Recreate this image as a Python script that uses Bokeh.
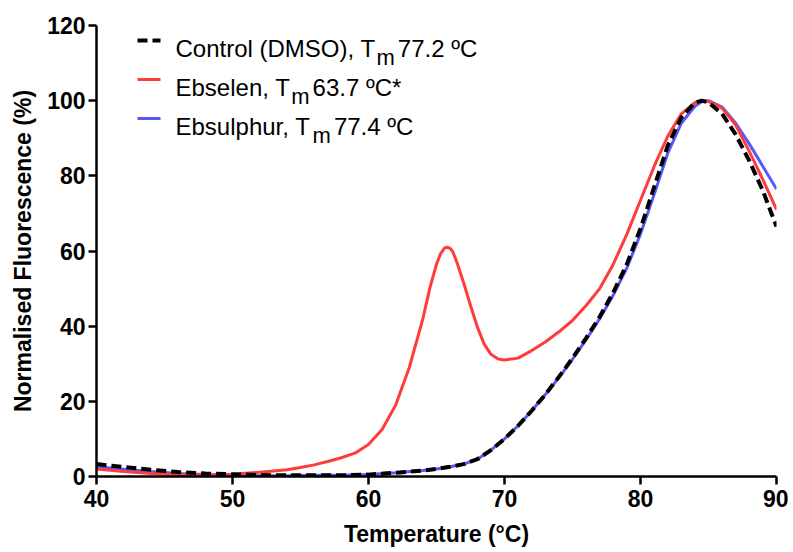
from bokeh.plotting import figure
from bokeh.models import Range1d, ColumnDataSource
from bokeh.core.properties import value
from bokeh.embed import file_html
from bokeh.resources import INLINE

# ---------------- data ----------------
control_x = [40, 42, 44, 46, 48, 50, 52, 54, 56, 58, 60, 62, 64, 65, 66, 67, 68, 69, 70,
             71, 72, 73, 74, 75, 76, 77, 78, 79, 80, 81, 82, 83, 84, 84.5, 85, 86, 87, 88, 89, 90]
control_y = [3.3, 2.5, 1.8, 1.2, 0.8, 0.6, 0.4, 0.3, 0.3, 0.3, 0.5, 1.0, 1.6, 2.0, 2.6, 3.3, 4.6, 7.0, 10.0,
             13.5, 17.5, 21.8, 26.5, 31.5, 36.8, 42.5, 49.0, 56.5, 66.0, 77.0, 88.0, 95.5, 99.5, 100.0, 99.5, 96.5, 91.0, 84.0, 76.0, 66.5]

ebselen_x = [40, 42, 44, 46, 48, 50, 52, 54, 55, 56, 57, 58, 59, 60, 61, 62, 63, 64, 64.5, 65, 65.3, 65.6, 65.8, 66, 66.2,
             66.5, 67, 67.5, 68, 68.5, 69, 69.5, 70, 71, 72, 73, 74, 75, 76, 77, 78, 79, 80, 81, 82, 83, 84, 84.5,
             85, 86, 87, 88, 89, 90]
ebselen_y = [2.0, 1.3, 0.8, 0.5, 0.4, 0.6, 1.1, 1.8, 2.4, 3.1, 4.0, 5.0, 6.2, 8.5, 12.5, 19.0, 29.0, 42.0, 50.0, 56.5, 59.3, 60.8, 61.0, 60.7, 59.8,
             57.0, 51.5, 45.5, 39.8, 35.3, 32.5, 31.3, 31.0, 31.5, 33.5, 35.8, 38.5, 41.5, 45.5, 50.0, 56.5, 64.5, 73.5, 82.5, 90.5, 96.5, 99.5, 100.0,
             99.8, 98.0, 93.5, 86.5, 79.0, 71.0]

ebsulphur_x = [40, 42, 44, 46, 48, 50, 52, 54, 56, 58, 60, 62, 64, 65, 66, 67, 68, 69, 70,
               71, 72, 73, 74, 75, 76, 77, 78, 79, 80, 81, 82, 83, 84, 84.5, 85, 86, 87, 88, 89, 90]
ebsulphur_y = [2.6, 1.9, 1.3, 0.8, 0.5, 0.3, 0.2, 0.2, 0.3, 0.3, 0.5, 1.0, 1.6, 2.0, 2.6, 3.3, 4.6, 7.0, 10.0,
               13.5, 17.5, 21.8, 26.3, 31.2, 36.4, 42.0, 48.3, 55.5, 64.5, 75.0, 86.0, 94.0, 98.5, 99.7, 100.0, 98.3, 94.0, 88.5, 82.5, 76.5]

x_ticks = [40, 50, 60, 70, 80, 90]
y_ticks = [0, 20, 40, 60, 80, 100, 120]

legend_labels = [("Control (DMSO), T", "m", " 77.2 \u00baC"),
                 ("Ebselen, T", "m", " 63.7 \u00baC*"),
                 ("Ebsulphur, T", "m", " 77.4 \u00baC")]

# ---------------- styling ----------------
RED = "#ff3b3b"
BLUE = "#5858f8"
BLACK = "#000000"
FONT = "Liberation Sans"

W, H = 788, 550
ML, MR, MT, MB = 96, 12, 25, 74
X0, X1, Y0, Y1 = 40, 90, 0, 120

p = figure(width=W, height=H, output_backend="svg", toolbar_location=None,
           x_range=Range1d(X0, X1), y_range=Range1d(Y0, Y1),
           min_border_left=ML, min_border_right=MR, min_border_top=MT, min_border_bottom=MB)
p.outline_line_color = None
p.grid.visible = False
p.background_fill_color = "white"
p.border_fill_color = "white"

p.line(ebsulphur_x, ebsulphur_y, line_color=BLUE, line_width=3)
p.line(ebselen_x, ebselen_y, line_color=RED, line_width=3)
p.line(control_x, control_y, line_color=BLACK, line_width=4, line_dash="10 5")

for ax in (p.xaxis[0], p.yaxis[0]):
    ax.axis_line_width = 2.5
    ax.major_tick_line_width = 2.5
    ax.major_tick_out = 8
    ax.major_tick_in = 0
    ax.minor_tick_out = 0
    ax.minor_tick_in = 0
    ax.major_label_text_font = FONT
    ax.major_label_text_font_style = "bold"
    ax.major_label_text_font_size = "23px"
    ax.axis_label_text_font = FONT
    ax.axis_label_text_font_style = "bold"
    ax.axis_label_text_font_size = "23px"
    ax.major_label_text_color = "black"
    ax.axis_label_text_color = "black"

p.xaxis.ticker = x_ticks
p.yaxis.ticker = y_ticks
p.xaxis.axis_label = "Temperature (\u00b0C)"
p.yaxis.axis_label = "Normalised Fluorescence (%)"
p.xaxis.major_label_standoff = 5
p.yaxis.major_label_standoff = 3
p.xaxis.axis_label_standoff = 11
p.yaxis.axis_label_standoff = 8

# ---------------- hand-made legend ----------------
fw = W - ML - MR
fh = H - MT - MB
ppx = fw / (X1 - X0)
ppy = fh / (Y1 - Y0)

def dx(px):  # pixels right of the frame's left edge -> data x
    return X0 + px / ppx

def dy(py):  # pixels below the frame's top edge -> data y
    return Y1 - py / ppy

AW = {'C': 722, 'o': 556, 'n': 556, 't': 278, 'r': 333, 'l': 222, ' ': 278, '(': 333, 'D': 722,
      'M': 833, 'S': 667, 'O': 778, ')': 333, ',': 278, 'T': 611, 'E': 667, 'b': 556, 's': 500,
      'e': 556, 'u': 556, 'p': 556, 'h': 556, 'm': 833, '7': 556, '.': 278, '2': 556,
      '\u00ba': 365, '*': 389, '6': 556, '3': 556, '4': 556}

def tw(s, size):
    return sum(AW.get(c, 556) for c in s) * size / 1000.0

LFS = 24
SFS = 22
row_py = [15, 54, 93]          # row centres, pixels below the frame top
line_px0, line_px1 = 41, 64    # legend sample line, pixels right of the frame left
text_px = 79
colors = [BLACK, RED, BLUE]
dashes = ["10 5", "solid", "solid"]
widths = [4, 3, 3]

tx, ty, tt, tsz = [], [], [], []
for (a, m, b), ry, c, d, lw in zip(legend_labels, row_py, colors, dashes, widths):
    p.line([dx(line_px0), dx(line_px1)], [dy(ry), dy(ry)], line_color=c, line_width=lw, line_dash=d)
    base = ry + 8
    tx.append(dx(text_px)); ty.append(dy(base)); tt.append(a); tsz.append("%dpx" % LFS)
    xm = text_px + tw(a, LFS) + 1
    tx.append(dx(xm)); ty.append(dy(base + 9)); tt.append(m); tsz.append("%dpx" % SFS)
    xb = xm + tw(m, SFS) + 3
    tx.append(dx(xb)); ty.append(dy(base)); tt.append(b); tsz.append("%dpx" % LFS)

src = ColumnDataSource(dict(x=tx, y=ty, t=tt, s=tsz))
p.text(x="x", y="y", text="t", text_font_size="s", source=src, text_font=value(FONT),
       text_baseline="alphabetic", text_align="left", text_color="black")

open("out.html", "w").write(file_html(p, INLINE))
